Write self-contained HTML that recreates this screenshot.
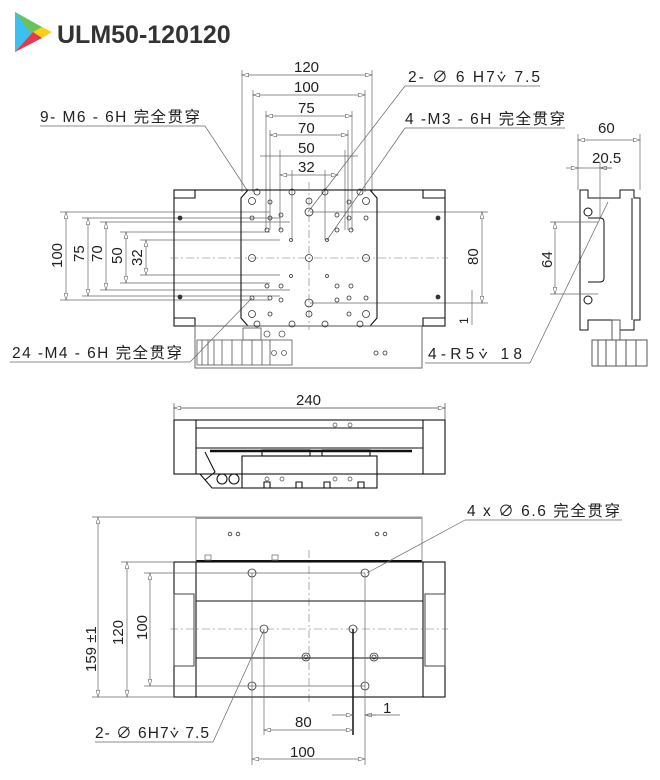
<!DOCTYPE html>
<html><head><meta charset="utf-8"><style>
body{margin:0;background:#fff}
svg{display:block}
text{font-family:"Liberation Sans","Noto Sans CJK SC",sans-serif;fill:#222}
</style></head><body>
<svg width="660" height="780" viewBox="0 0 660 780" xmlns="http://www.w3.org/2000/svg">
<defs>
<marker id="a" viewBox="0 0 10 6" refX="10" refY="3" markerWidth="10" markerHeight="4" orient="auto-start-reverse" markerUnits="userSpaceOnUse"><path d="M0,0L10,3L0,6z" fill="#fff" stroke="#555" stroke-width="0.8"/></marker>
</defs>
<polygon points="15,12 15,52 50,32" fill="#3cc0ef"/>
<polygon points="15,12 42,27 33,36" fill="#6cc15a"/>
<polygon points="42,27 52,32 42,38 33,32" fill="#f9cf17"/>
<polygon points="15,52 33,32 42,38" fill="#e8384d"/>
<text x="57" y="43" font-size="25" font-weight="bold" style="fill:#333">ULM50-120120</text>

<g stroke="#666" stroke-width="0.7" fill="none">
<line x1="242" y1="75" x2="372" y2="75" marker-start="url(#a)" marker-end="url(#a)"/>
<line x1="253" y1="95" x2="365" y2="95" marker-start="url(#a)" marker-end="url(#a)"/>
<line x1="266" y1="116" x2="352" y2="116" marker-start="url(#a)" marker-end="url(#a)"/>
<line x1="270" y1="135" x2="348" y2="135" marker-start="url(#a)" marker-end="url(#a)"/>
<line x1="260" y1="156" x2="358" y2="156"/>
<line x1="280" y1="175" x2="338" y2="175" marker-start="url(#a)" marker-end="url(#a)"/>
<line x1="242" y1="70" x2="242" y2="192"/><line x1="372" y1="70" x2="372" y2="192"/>
<line x1="253" y1="90" x2="253" y2="192"/><line x1="365" y1="90" x2="365" y2="192"/>
<line x1="266" y1="111" x2="266" y2="230"/><line x1="352" y1="111" x2="352" y2="230"/>
<line x1="270" y1="130" x2="270" y2="230"/><line x1="348" y1="130" x2="348" y2="230"/>
<line x1="280" y1="150" x2="280" y2="230"/><line x1="345" y1="150" x2="345" y2="230"/>
<line x1="292" y1="170" x2="292" y2="240"/><line x1="325" y1="170" x2="325" y2="240"/>
<line x1="66" y1="212" x2="66" y2="300" marker-start="url(#a)" marker-end="url(#a)"/>
<line x1="88" y1="218" x2="88" y2="296" marker-start="url(#a)" marker-end="url(#a)"/>
<line x1="106" y1="222" x2="106" y2="290" marker-start="url(#a)" marker-end="url(#a)"/>
<line x1="126" y1="232" x2="126" y2="283" marker-start="url(#a)" marker-end="url(#a)"/>
<line x1="146" y1="240" x2="146" y2="275" marker-start="url(#a)" marker-end="url(#a)"/>
<line x1="60" y1="212" x2="270" y2="212"/><line x1="60" y1="300" x2="270" y2="300"/>
<line x1="82" y1="218" x2="280" y2="218"/><line x1="82" y1="296" x2="280" y2="296"/>
<line x1="100" y1="222" x2="290" y2="222"/><line x1="100" y1="290" x2="290" y2="290"/>
<line x1="120" y1="232" x2="270" y2="232"/><line x1="120" y1="283" x2="270" y2="283"/>
<line x1="140" y1="240" x2="280" y2="240"/><line x1="140" y1="275" x2="280" y2="275"/>
<line x1="310" y1="212" x2="488" y2="212"/><line x1="310" y1="303" x2="488" y2="303"/>
<line x1="482" y1="212" x2="482" y2="303" marker-start="url(#a)" marker-end="url(#a)"/>
<line x1="472" y1="290" x2="472" y2="325"/>
<line x1="40" y1="126" x2="205" y2="126"/><line x1="205" y1="126" x2="247" y2="190"/>
<line x1="405" y1="86" x2="540" y2="86"/><line x1="405" y1="86" x2="308" y2="212"/>
<line x1="405" y1="128" x2="565" y2="128"/><line x1="405" y1="128" x2="327" y2="240"/>
<line x1="10" y1="362" x2="190" y2="362"/><line x1="190" y1="362" x2="252" y2="298"/>
<line x1="425" y1="363" x2="530" y2="363"/><line x1="530" y1="363" x2="608" y2="202"/>
</g>
<g font-size="15">
<text x="294" y="72">120</text><text x="294" y="92">100</text><text x="298" y="113">75</text><text x="298" y="133">70</text><text x="298" y="153">50</text><text x="298" y="172">32</text>
<text x="40" y="122" font-size="15.5" textLength="160" lengthAdjust="spacing">9- M6 - 6H 完全贯穿</text>
<text x="408" y="82" font-size="15.5" textLength="132" lengthAdjust="spacing">2- ∅ 6 H7⩒ 7.5</text>
<text x="405" y="124" font-size="15.5" textLength="160" lengthAdjust="spacing">4 -M3 - 6H 完全贯穿</text>
<text x="12" y="358" font-size="15.5" textLength="170" lengthAdjust="spacing">24 -M4 - 6H 完全贯穿</text>
<text x="428" y="359" font-size="15.5" textLength="94" lengthAdjust="spacing">4-R5⩒ 18</text>
<text transform="translate(62,268) rotate(-90)">100</text>
<text transform="translate(84,262) rotate(-90)">75</text>
<text transform="translate(102,262) rotate(-90)">70</text>
<text transform="translate(122,264) rotate(-90)">50</text>
<text transform="translate(142,266) rotate(-90)">32</text>
<text transform="translate(478,265) rotate(-90)">80</text>
<text transform="translate(468,324) rotate(-90)" font-size="12">1</text>
<text x="598" y="133">60</text><text x="592" y="163">20.5</text>
<text transform="translate(552,268) rotate(-90)">64</text>
<text x="296" y="405">240</text>
<text x="467" y="516" font-size="15.5" textLength="153" lengthAdjust="spacing">4 x ∅ 6.6 完全贯穿</text>
<text transform="translate(96,672) rotate(-90)">159 ±1</text>
<text transform="translate(123,645) rotate(-90)">120</text>
<text transform="translate(147,640) rotate(-90)">100</text>
<text x="295" y="727">80</text><text x="290" y="757">100</text><text x="383" y="713">1</text>
<text x="95" y="738" font-size="15.5" textLength="114" lengthAdjust="spacing">2- ∅ 6H7⩒ 7.5</text>
</g>

<g stroke="#111" stroke-width="1.1" fill="none">
<rect x="174" y="190" width="271" height="136"/>
<path d="M195,190v8h-21M423,190v8h22M195,326v-8h-21M423,326v-8h22"/>
<path d="M248,190l-7,8v120l7,8M370,190l7,8v120l-7,8"/>
<rect x="195" y="326" width="227" height="42" stroke="#777"/>
</g>
<g stroke="#777" stroke-width="0.6" fill="none" stroke-dasharray="8,3,2,3">
<line x1="170" y1="258" x2="448" y2="258"/><line x1="309" y1="182" x2="309" y2="330"/>
<line x1="170" y1="629" x2="448" y2="629"/><line x1="309" y1="550" x2="309" y2="705"/>
</g>
<g stroke="#333" stroke-width="0.8" fill="none">
<circle cx="257" cy="192" r="3"/><circle cx="292" cy="192" r="3"/><circle cx="325" cy="192" r="3"/><circle cx="360" cy="192" r="3"/>
<circle cx="257" cy="324" r="3"/><circle cx="292" cy="324" r="3"/><circle cx="325" cy="324" r="3"/><circle cx="360" cy="324" r="3"/>
<circle cx="252" cy="201" r="3.5"/><circle cx="309" cy="201" r="3"/><circle cx="366" cy="201" r="3.5"/>
<circle cx="309" cy="212" r="4"/><circle cx="309" cy="303" r="4"/><circle cx="309" cy="314" r="3"/>
<circle cx="252" cy="258" r="3.5"/><circle cx="309" cy="258" r="3.5"/><circle cx="366" cy="258" r="3.5"/>
<circle cx="252" cy="314" r="3.5"/><circle cx="366" cy="314" r="3.5"/>
<circle cx="270" cy="202" r="2"/><circle cx="349" cy="202" r="2"/><circle cx="252" cy="218" r="2"/><circle cx="270" cy="218" r="2"/><circle cx="281" cy="215" r="2"/><circle cx="337" cy="215" r="2"/><circle cx="349" cy="218" r="2"/><circle cx="366" cy="218" r="2"/>
<circle cx="267" cy="230" r="2"/><circle cx="281" cy="230" r="2"/><circle cx="337" cy="230" r="2"/><circle cx="351" cy="230" r="2"/>
<circle cx="291" cy="240" r="1.5"/><circle cx="327" cy="240" r="1.5"/><circle cx="291" cy="276" r="1.5"/><circle cx="327" cy="276" r="1.5"/>
<circle cx="267" cy="286" r="2"/><circle cx="281" cy="286" r="2"/><circle cx="337" cy="286" r="2"/><circle cx="351" cy="286" r="2"/>
<circle cx="252" cy="298" r="2"/><circle cx="270" cy="298" r="2"/><circle cx="281" cy="300" r="2"/><circle cx="337" cy="300" r="2"/><circle cx="349" cy="298" r="2"/><circle cx="366" cy="298" r="2"/>
<circle cx="270" cy="314" r="2"/><circle cx="349" cy="314" r="2"/>
<circle cx="180" cy="218" r="2" fill="#333"/><circle cx="438" cy="218" r="2" fill="#333"/><circle cx="180" cy="297" r="2" fill="#333"/><circle cx="438" cy="297" r="2" fill="#333"/>
<circle cx="376" cy="353" r="2"/><circle cx="385" cy="353" r="2"/>
</g>
<g stroke="#555" stroke-width="0.8" fill="none">
<rect x="197" y="340" width="95" height="25"/>
<path d="M202,340v25M208,340v25M214,340v25M222,340v25M232,340v25M242,340v25M252,340v25M262,340v25M270,340v25"/>
<rect x="243" y="328" width="18" height="12"/>
<circle cx="267" cy="334" r="3"/><circle cx="282" cy="334" r="3"/>
<circle cx="274" cy="353" r="2.5"/><circle cx="284" cy="353" r="2.5"/>
</g>
<g stroke="#111" stroke-width="1" fill="none">
<path d="M580,190h8v8h32v-8h14v8h6v122h-6v10h-14v-10h-32v10h-8z"/>
<path d="M588,218h12q4,0 4,4v56q0,4-4,4h-12"/>
<circle cx="588" cy="212" r="4"/><circle cx="588" cy="300" r="4"/>
<line x1="632" y1="198" x2="632" y2="320"/>
<rect x="592" y="340" width="55" height="26" stroke="#555"/>
<path d="M598,340v26M606,340v26M616,340v26M626,340v26M636,340v26" stroke="#555"/>
<rect x="612" y="320" width="8" height="20" stroke="#555"/>
</g>
<g stroke="#666" stroke-width="0.7" fill="none">
<line x1="578" y1="140" x2="640" y2="140" marker-start="url(#a)" marker-end="url(#a)"/>
<line x1="566" y1="168" x2="578" y2="168" marker-end="url(#a)"/><line x1="612" y1="168" x2="600" y2="168" marker-end="url(#a)"/><line x1="578" y1="168" x2="612" y2="168"/>
<line x1="578" y1="134" x2="578" y2="190"/><line x1="640" y1="134" x2="640" y2="190"/><line x1="600" y1="162" x2="600" y2="218"/>
<line x1="555" y1="222" x2="555" y2="294" marker-start="url(#a)" marker-end="url(#a)"/>
<line x1="550" y1="222" x2="598" y2="222"/><line x1="550" y1="294" x2="598" y2="294"/>
</g>
<g stroke="#111" stroke-width="1.1" fill="none">
<rect x="174" y="420" width="271" height="54"/>
<path d="M196,420v54M423,420v54M196,428h227M196,448h227"/>
<rect x="242" y="456" width="135" height="32"/>
<path d="M264,488v-6h6v6M296,488v-6h6v6M324,488v-6h6v6M358,488v-6h6v6"/>
<rect x="262" y="450" width="48" height="6"/><rect x="322" y="450" width="48" height="6"/>
<line x1="210" y1="451" x2="412" y2="451" stroke-width="2.5"/>
<circle cx="222" cy="479" r="5"/><circle cx="234" cy="479" r="5"/>
<path d="M205,452l10,20l-10,8M200,474l12,14h30"/>
</g>
<g stroke="#444" stroke-width="0.7" fill="none">
<circle cx="335" cy="425" r="2"/><circle cx="350" cy="425" r="2"/>
<circle cx="267" cy="479" r="2"/><circle cx="282" cy="479" r="2"/><circle cx="335" cy="479" r="2"/><circle cx="350" cy="479" r="2"/>
<line x1="174" y1="408" x2="445" y2="408" marker-start="url(#a)" marker-end="url(#a)"/>
<line x1="174" y1="403" x2="174" y2="420"/><line x1="445" y1="403" x2="445" y2="420"/>
</g>
<g stroke="#111" stroke-width="1.1" fill="none">
<rect x="174" y="562" width="271" height="135"/>
<path d="M196,562v135M423,562v135M196,601h227M196,658h227"/>
<rect x="174" y="594" width="20" height="72" stroke="#555"/><rect x="425" y="594" width="20" height="72" stroke="#555"/>
<line x1="196" y1="561" x2="422" y2="561" stroke-width="2"/>
</g>
<g stroke="#777" stroke-width="0.8" fill="none">
<path d="M196,562V517h226v45"/>
<line x1="196" y1="518" x2="422" y2="518" stroke="#999" stroke-width="2"/>
<rect x="205" y="555" width="6" height="5"/><rect x="272" y="555" width="6" height="5"/>
</g>
<g stroke="#333" stroke-width="0.8" fill="none">
<circle cx="230" cy="534" r="1.8"/><circle cx="238" cy="534" r="1.8"/><circle cx="377" cy="534" r="1.8"/><circle cx="385" cy="534" r="1.8"/>
<circle cx="252" cy="573" r="4"/><circle cx="365" cy="573" r="4"/><circle cx="264" cy="629" r="4"/><circle cx="353" cy="629" r="4"/>
<circle cx="306" cy="657" r="4"/><circle cx="306" cy="657" r="2"/><circle cx="374" cy="657" r="4"/><circle cx="374" cy="657" r="2"/>
<circle cx="252" cy="686" r="4"/><circle cx="365" cy="686" r="4"/>
</g>
<g stroke="#666" stroke-width="0.7" fill="none">
<line x1="98" y1="517" x2="98" y2="697" marker-start="url(#a)" marker-end="url(#a)"/>
<line x1="127" y1="562" x2="127" y2="697" marker-start="url(#a)" marker-end="url(#a)"/>
<line x1="150" y1="573" x2="150" y2="686" marker-start="url(#a)" marker-end="url(#a)"/>
<line x1="92" y1="517" x2="196" y2="517"/><line x1="92" y1="697" x2="174" y2="697"/>
<line x1="121" y1="562" x2="174" y2="562"/><line x1="144" y1="573" x2="365" y2="573"/><line x1="144" y1="686" x2="365" y2="686"/>
<line x1="252" y1="573" x2="252" y2="765"/><line x1="365" y1="573" x2="365" y2="765"/>
<line x1="264" y1="629" x2="264" y2="735"/><line x1="353" y1="629" x2="353" y2="735" stroke="#111" stroke-width="1.5"/>
<line x1="264" y1="730" x2="353" y2="730" marker-start="url(#a)" marker-end="url(#a)"/>
<line x1="252" y1="759" x2="365" y2="759" marker-start="url(#a)" marker-end="url(#a)"/>
<line x1="332" y1="715" x2="353" y2="715" marker-end="url(#a)"/><line x1="376" y1="715" x2="365" y2="715" marker-end="url(#a)"/><line x1="365" y1="715" x2="400" y2="715"/>
<line x1="95" y1="742" x2="213" y2="742"/><line x1="213" y1="742" x2="264" y2="630"/>
<line x1="465" y1="520" x2="622" y2="520"/><line x1="465" y1="520" x2="367" y2="573"/>
</g>
</svg>
</body></html>
